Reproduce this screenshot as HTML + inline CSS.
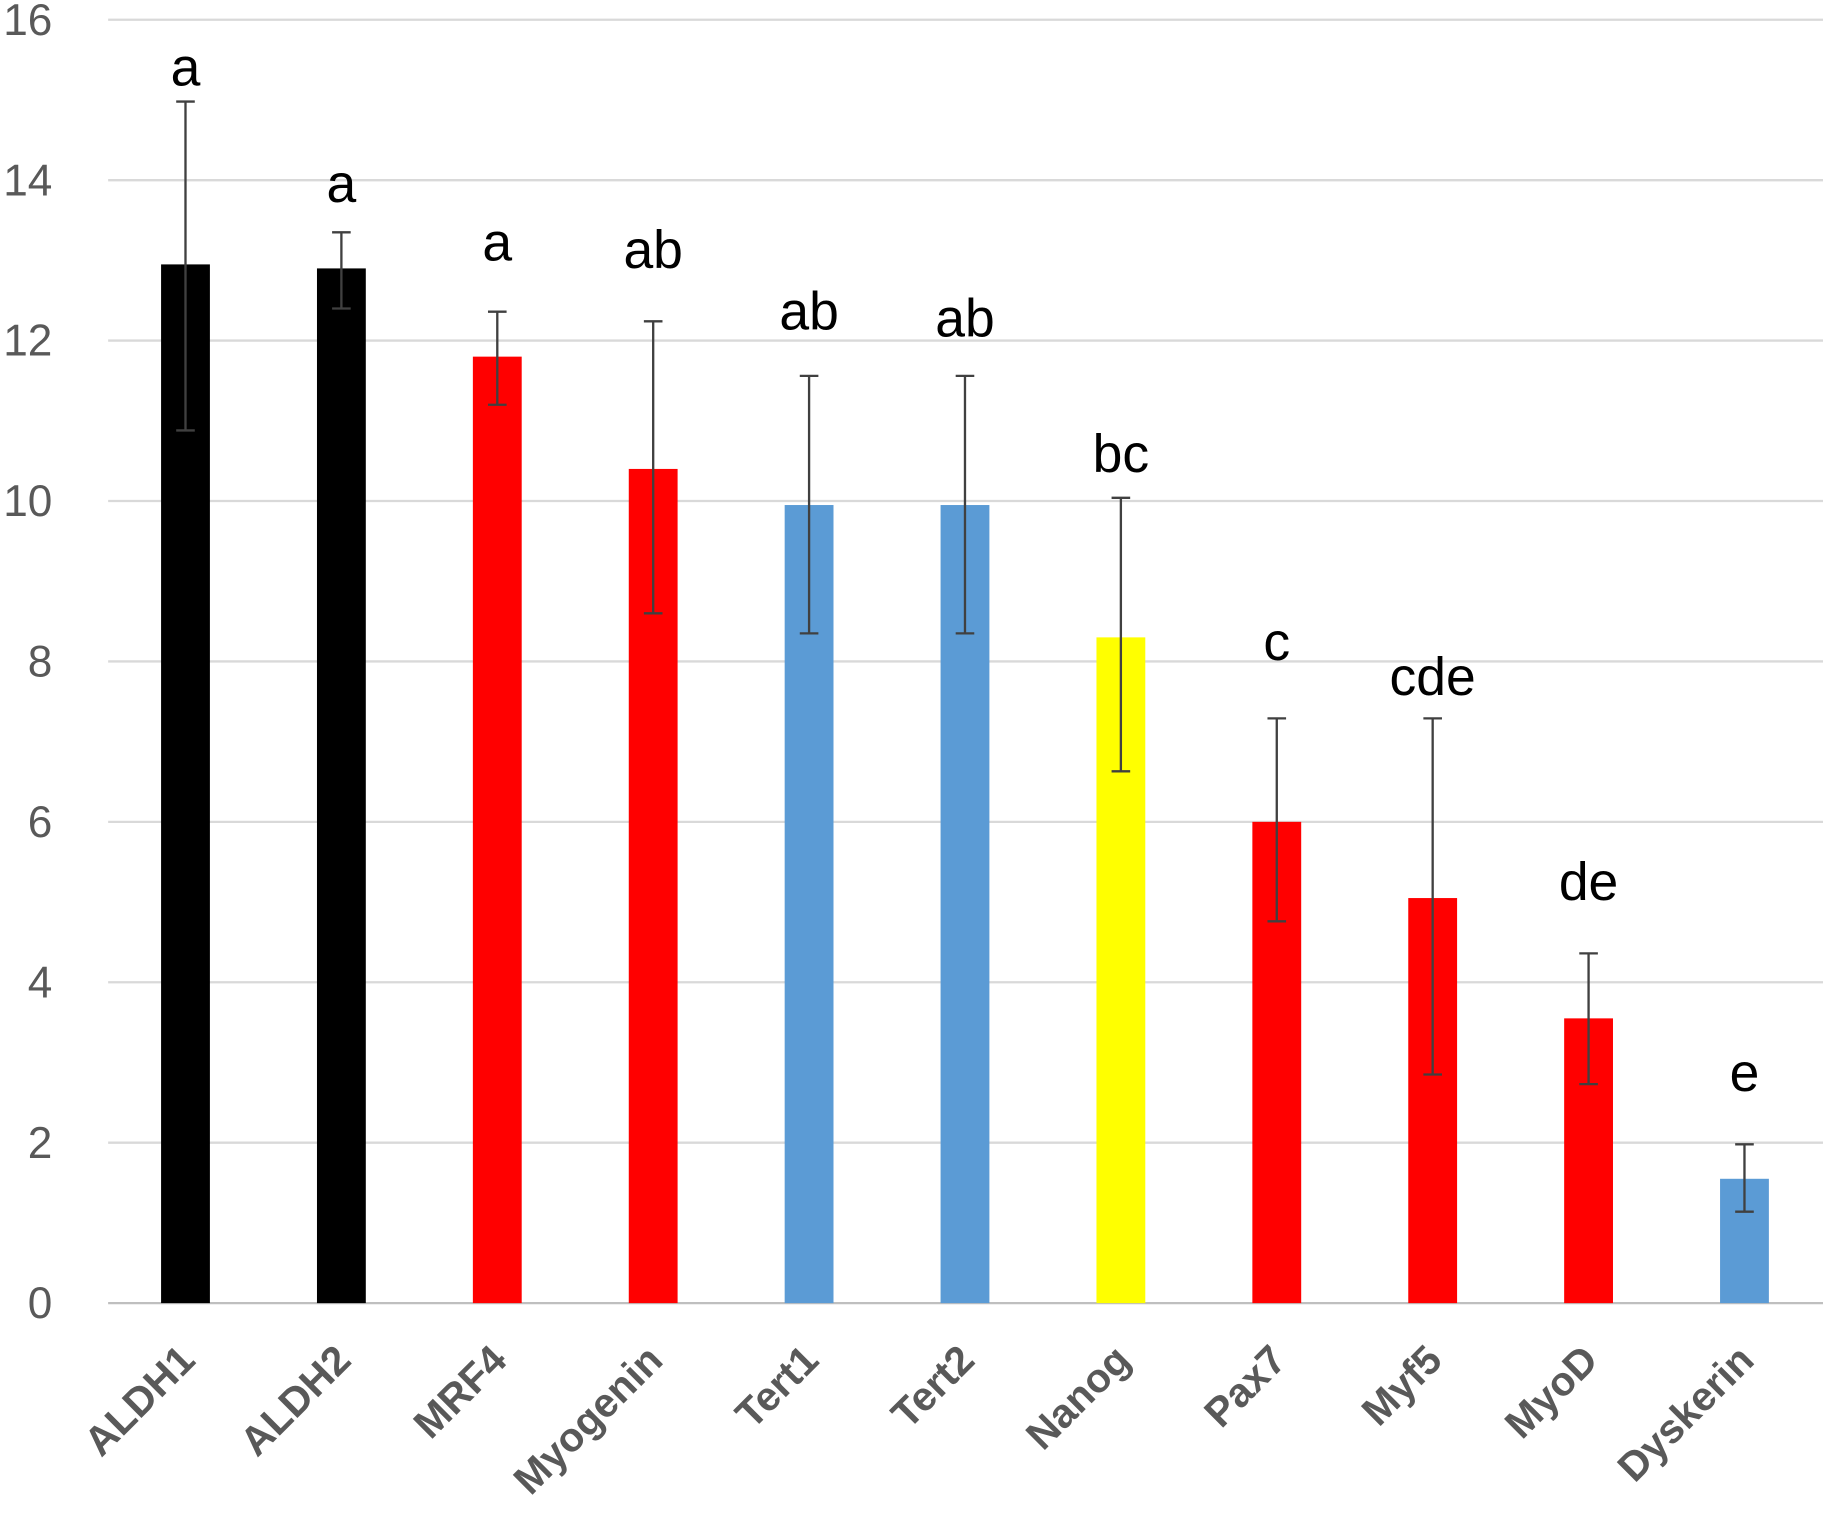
<!DOCTYPE html>
<html><head><meta charset="utf-8"><style>
html,body{margin:0;padding:0;background:#fff;}
svg{display:block;font-family:"Liberation Sans","DejaVu Sans",sans-serif;}
</style></head>
<body>
<svg id="chart" width="1823" height="1517" viewBox="0 0 1568 1305" preserveAspectRatio="none" xmlns="http://www.w3.org/2000/svg"></svg>
<script>
const categories=["ALDH1","ALDH2","MRF4","Myogenin","Tert1","Tert2","Nanog","Pax7","Myf5","MyoD","Dyskerin"];
const values=[12.95,12.9,11.8,10.4,9.95,9.95,8.3,6.0,5.05,3.55,1.55];
const errLow=[10.88,12.4,11.2,8.6,8.35,8.35,6.63,4.76,2.85,2.73,1.14];
const errHigh=[14.98,13.35,12.36,12.24,11.56,11.56,10.04,7.29,7.29,4.36,1.98];
const letters=["a","a","a","ab","ab","ab","bc","c","cde","de","e"];
const colors=["#000000","#000000","#ff0000","#ff0000","#5b9bd5","#5b9bd5","#ffff00","#ff0000","#ff0000","#ff0000","#5b9bd5"];
const yTicks=[0,2,4,6,8,10,12,14,16];
const letterOffsets=[14,26,44,46,40,34,22,50,20,46,46];

const svg=document.getElementById('chart');
const NS="http://www.w3.org/2000/svg";
const plotL=93,plotR=1568,y0=1121,y16=17;
const y=v=>y0-(v/16)*(y0-y16);
const step=(plotR-plotL)/categories.length;
const xc=i=>plotL+step*(i+0.5)-0.5;
const barW=42;
function mk(tag,attrs,parent){const e=document.createElementNS(NS,tag);for(const k in attrs)e.setAttribute(k,attrs[k]);(parent||svg).appendChild(e);return e;}

yTicks.forEach(t=>{
  const g=mk('line',{x1:plotL,x2:plotR,y1:y(t),y2:y(t),stroke:t===0?'#bfbfbf':'#d9d9d9','stroke-width':2});
  
  
  const l=mk('text',{x:45,y:y(t)+13,'text-anchor':'end','font-size':38,fill:'#595959'});
  l.textContent=t;
  
  
});

categories.forEach((c,i)=>{
  const cx=xc(i);
  const b=mk('rect',{x:cx-barW/2,y:y(values[i]),width:barW,height:y0-y(values[i]),fill:colors[i]});
  
  
  const eg=mk('g',{stroke:'#404040','stroke-width':2});
  
  
  mk('line',{x1:cx,x2:cx,y1:y(errHigh[i]),y2:y(errLow[i])},eg);
  mk('line',{x1:cx-8,x2:cx+8,y1:y(errHigh[i]),y2:y(errHigh[i])},eg);
  mk('line',{x1:cx-8,x2:cx+8,y1:y(errLow[i]),y2:y(errLow[i])},eg);
  const lt=mk('text',{x:cx,y:y(errHigh[i])-letterOffsets[i],'text-anchor':'middle','font-size':46,fill:'#000'});
  lt.textContent=letters[i];
  
  
  const ax=cx+10,ay=1172;
  const cl=mk('text',{x:ax,y:ay,'text-anchor':'end','font-size':35,'font-weight':'bold',fill:'#595959',transform:`rotate(-45 ${ax} ${ay})`});
  cl.textContent=c;
  
  
});
</script>
</body></html>
